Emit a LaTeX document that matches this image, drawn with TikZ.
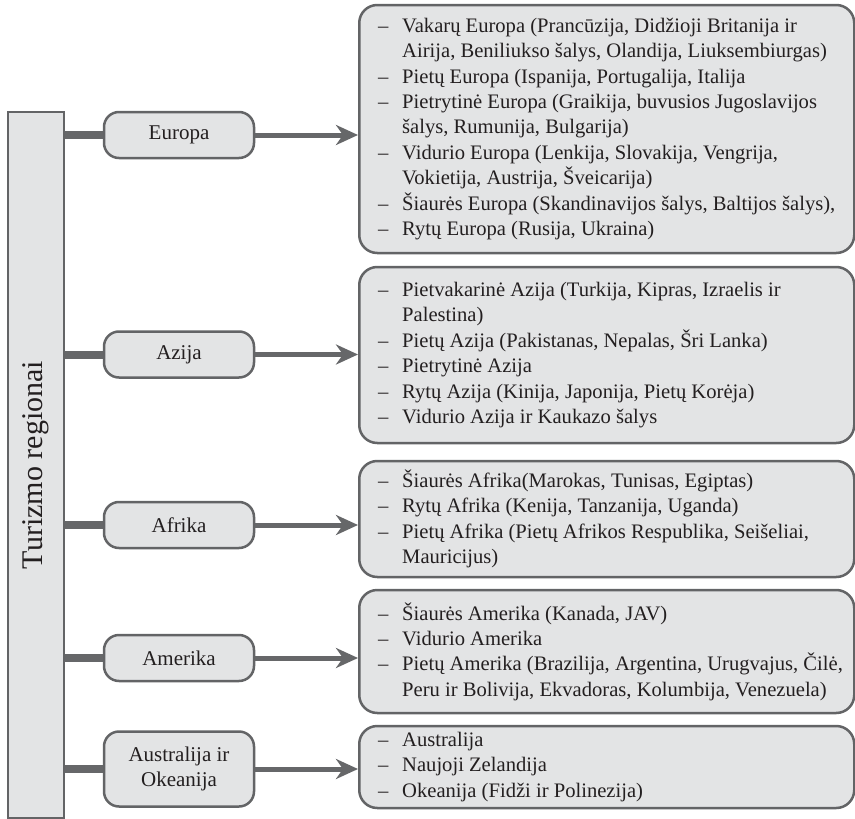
\documentclass[tikz,border=0pt]{standalone}
\usepackage{fontspec}
\setmainfont{Liberation Serif}
\usetikzlibrary{arrows.meta,calc}
\definecolor{boxfill}{HTML}{E3E4E5}
\definecolor{bordercol}{HTML}{636466}
\definecolor{arrowcol}{HTML}{666769}
\definecolor{txtcol}{HTML}{231F20}
\newcommand{\dsh}{\makebox[24pt][l]{–}}
\newcommand{\lind}{\hspace*{24pt}}
\begin{document}
\begin{tikzpicture}[x=1pt,y=-1pt,
  every node/.style={text=txtcol},
  barbox/.style={draw=bordercol,line width=2.5pt,fill=boxfill,minimum width=56pt,minimum height=706pt,inner sep=0pt,
    font=\fontsize{30}{34}\selectfont},
  catbox/.style={draw=bordercol,line width=2.5pt,fill=boxfill,rounded corners=15pt,minimum width=150pt,
    minimum height=46pt,align=center,inner sep=2pt,font=\fontsize{21}{25.4}\selectfont},
  listbox/.style={draw=bordercol,line width=2.5pt,fill=boxfill,rounded corners=18pt,minimum width=495pt,
    anchor=west,inner sep=0pt},
  listtext/.style={anchor=west,align=left,inner sep=0pt,font=\fontsize{20.6}{25.4}\selectfont},
  stub/.style={draw=arrowcol,line width=8pt},
  arrowline/.style={draw=arrowcol,line width=5pt,-{Stealth[length=22pt,width=20pt,inset=7pt]}}
]
\useasboundingbox (0,0) rectangle (855,819);

% left bar
\node[barbox] (bar) at (36,465) {\rotatebox{90}{Turizmo regionai}};

% category nodes
\node[catbox] (eur) at (179,135) {Europa};
\node[catbox] (azi) at (179,354.5) {Azija};
\node[catbox] (afr) at (179,525) {Afrika};
\node[catbox] (ame) at (179,658) {Amerika};
\node[catbox,minimum height=75pt] (aus) at (179,769) {Australija ir\\Okeanija};

% list boxes
\node[listbox,minimum height=248pt] (beur) at (358,129) {};
\node[listbox,minimum height=176pt] (bazi) at (358,355) {};
\node[listbox,minimum height=116pt] (bafr) at (358,519) {};
\node[listbox,minimum height=123pt] (bame) at (358,651.5) {};
\node[listbox,minimum height=82pt] (baus) at (358,767) {};

% list texts
\node[listtext] (teur) at ($(beur.west)+(20,0)$) {%
\dsh Vakarų Europa (Prancūzija, Didžioji Britanija ir\\
\lind Airija, Beniliukso šalys, Olandija, Liuksembiurgas)\\
\dsh Pietų Europa (Ispanija, Portugalija, Italija\\
\dsh Pietrytinė Europa (Graikija, buvusios Jugoslavijos\\
\lind šalys, Rumunija, Bulgarija)\\
\dsh Vidurio Europa (Lenkija, Slovakija, Vengrija,\\
\lind Vokietija, Austrija, Šveicarija)\\
\dsh Šiaurės Europa (Skandinavijos šalys, Baltijos šalys),\\
\dsh Rytų Europa (Rusija, Ukraina)};

\node[listtext] (tazi) at ($(bazi.west)+(20,0)$) {%
\dsh Pietvakarinė Azija (Turkija, Kipras, Izraelis ir\\
\lind Palestina)\\
\dsh Pietų Azija (Pakistanas, Nepalas, Šri Lanka)\\
\dsh Pietrytinė Azija\\
\dsh Rytų Azija (Kinija, Japonija, Pietų Korėja)\\
\dsh Vidurio Azija ir Kaukazo šalys};

\node[listtext] (tafr) at ($(bafr.west)+(20,0)$) {%
\dsh Šiaurės Afrika(Marokas, Tunisas, Egiptas)\\
\dsh Rytų Afrika (Kenija, Tanzanija, Uganda)\\
\dsh Pietų Afrika (Pietų Afrikos Respublika, Seišeliai,\\
\lind Mauricijus)};

\node[listtext] (tame) at ($(bame.west)+(20,0)$) {%
\dsh Šiaurės Amerika (Kanada, JAV)\\
\dsh Vidurio Amerika\\
\dsh Pietų Amerika (Brazilija, Argentina, Urugvajus, Čilė,\\
\lind Peru ir Bolivija, Ekvadoras, Kolumbija, Venezuela)};

\node[listtext] (taus) at ($(baus.west)+(20,0)$) {%
\dsh Australija\\
\dsh Naujoji Zelandija\\
\dsh Okeanija (Fidži ir Polinezija)};

% stubs from bar
\foreach \n in {eur,azi,afr,ame,aus}{
  \draw[stub] (\n.west -| bar.east) -- (\n.west);
}
% arrows
\draw[arrowline] (eur.east) -- (eur.east -| beur.west);
\draw[arrowline] (azi.east) -- (azi.east -| bazi.west);
\draw[arrowline] (afr.east) -- (afr.east -| bafr.west);
\draw[arrowline] (ame.east) -- (ame.east -| bame.west);
\draw[arrowline] (aus.east) -- (aus.east -| baus.west);
\end{tikzpicture}
\end{document}
